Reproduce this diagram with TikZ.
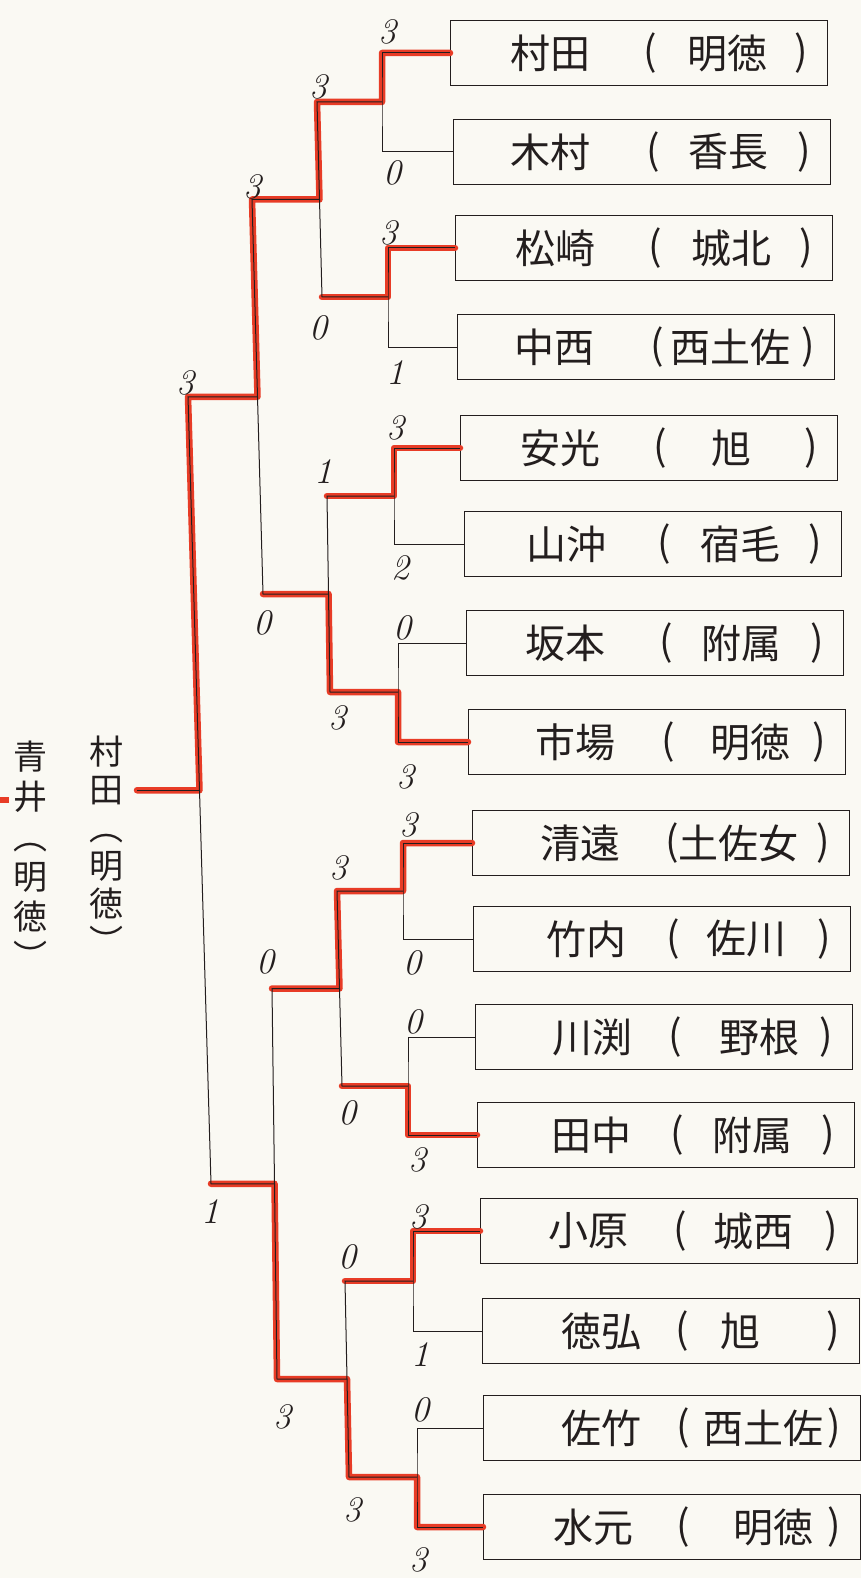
\documentclass[tikz,border=0pt]{standalone}
\usepackage{fontspec}
\newfontfamily\jp{Noto Sans CJK JP}
\definecolor{paper}{RGB}{250,249,243}
\definecolor{ink}{RGB}{35,30,30}
\definecolor{marker}{RGB}{232,60,38}
\tikzset{
 pbox/.style={draw=ink, line width=1.3pt, minimum width=377pt, minimum height=65pt, inner sep=0pt},
 nm/.style={font=\jp\fontsize{40}{42}\selectfont, text=ink, inner sep=0pt},
 sc/.style={font=\fontsize{36}{38}\selectfont\itshape, text=ink, inner sep=0pt},
 bk/.style={draw=ink, line width=1pt},
 win/.style={draw=marker, line width=6.5pt, line join=round, line cap=round},
 vt/.style={font=\jp\fontsize{34}{38}\selectfont, text=ink, align=center, inner sep=0pt}
}
\newcommand\plentry[7]{%
 \node[pbox, anchor=west] (#1) at (#2,#3) {};
 \node[nm] (#1n) at ([xshift=#5pt]#1.west) {#4};
 \node[nm] (#1l) at ([xshift=200pt]#1.west) {(};
 \node[nm] (#1s) at ([xshift=#7pt]#1.west) {#6};
 \node[nm] (#1r) at ([xshift=351pt]#1.west) {)};
}
\begin{document}
\begin{tikzpicture}[x=1pt,y=-1pt]
\useasboundingbox (0,0) rectangle (861,1578);
\fill[paper] (0,0) rectangle (861,1578);

% player boxes
\plentry{p1}{450}{53}{村田}{100}{明徳}{277}
\plentry{p2}{453}{152}{木村}{97}{香長}{275}
\plentry{p3}{455}{248}{松崎}{100}{城北}{276}
\plentry{p4}{457}{347}{中西}{97}{西土佐}{273}
\plentry{p5}{460}{448}{安光}{100}{旭}{271}
\plentry{p6}{464}{544}{山沖}{102}{宿毛}{276}
\plentry{p7}{466}{643}{坂本}{99}{附属}{275}
\plentry{p8}{468}{742}{市場}{107}{明徳}{282}
\plentry{p9}{472}{843}{清遠}{108}{土佐女}{266}
\plentry{p10}{473}{939}{竹内}{113}{佐川}{273}
\plentry{p11}{475}{1037}{川渕}{117}{野根}{284}
\plentry{p12}{477}{1135}{田中}{114}{附属}{275}
\plentry{p13}{480}{1231}{小原}{108}{城西}{273}
\plentry{p14}{482}{1331}{徳弘}{119}{旭}{258}
\plentry{p15}{483}{1428}{佐竹}{118}{西土佐}{280}
\plentry{p16}{483}{1527}{水元}{110}{明徳}{290}

% bracket joints
\coordinate (a1) at (382,102);
\coordinate (a2) at (388,297);
\coordinate (a3) at (394,496);
\coordinate (a4) at (398,692);
\coordinate (a5) at (403,891);
\coordinate (a6) at (408,1086);
\coordinate (a7) at (413,1281);
\coordinate (a8) at (417,1477);
\coordinate (b1t) at (317,102);
\coordinate (b1b) at (322,297);
\coordinate (b1m) at (319.5,199.5);
\coordinate (b2t) at (327,496);
\coordinate (b2b) at (330,692);
\coordinate (b2m) at (328.5,594);
\coordinate (b3t) at (337,891);
\coordinate (b3b) at (342,1086);
\coordinate (b3m) at (339.5,988.5);
\coordinate (b4t) at (345,1281);
\coordinate (b4b) at (349,1477);
\coordinate (b4m) at (347,1379);
\coordinate (c1t) at (252,199.5);
\coordinate (c1b) at (263,594);
\coordinate (c1m) at (257.5,396.75);
\coordinate (c2t) at (272,988.5);
\coordinate (c2b) at (277,1379);
\coordinate (c2m) at (274.5,1183.75);
\coordinate (dt) at (188,396.75);
\coordinate (db) at (211,1183.75);
\coordinate (dm) at (199.5,790.25);
\coordinate (champ) at (137,790.25);
\coordinate (lt1) at (0,800);
\coordinate (lt2) at (9,800);

% winners (red marker)
\draw[win] (p1.west) -| (a1) -- (b1t) -- (b1m) -- (c1t) -- (c1m) -- (dt) -- (dm) -- (champ);
\draw[win] (p3.west) -| (a2) -- (b1b);
\draw[win] (p5.west) -| (a3) -- (b2t);
\draw[win] (p8.west) -| (a4) -- (b2b) -- (b2m) -- (c1b);
\draw[win] (p9.west) -| (a5) -- (b3t) -- (b3m) -- (c2t);
\draw[win] (p12.west) -| (a6) -- (b3b);
\draw[win] (p13.west) -| (a7) -- (b4t);
\draw[win] (p16.west) -| (a8) -- (b4b) -- (b4m) -- (c2b) -- (c2m) -- (db);
\draw[win, line cap=butt] (lt1) -- (lt2);

% bracket lines
\draw[bk] (p1.west) -| (a1) |- (p2.west);
\draw[bk] (p3.west) -| (a2) |- (p4.west);
\draw[bk] (p5.west) -| (a3) |- (p6.west);
\draw[bk] (p7.west) -| (a4) |- (p8.west);
\draw[bk] (p9.west) -| (a5) |- (p10.west);
\draw[bk] (p11.west) -| (a6) |- (p12.west);
\draw[bk] (p13.west) -| (a7) |- (p14.west);
\draw[bk] (p15.west) -| (a8) |- (p16.west);
\draw[bk] (a1) -- (b1t) -- (b1b) -- (a2);
\draw[bk] (a3) -- (b2t) -- (b2b) -- (a4);
\draw[bk] (a5) -- (b3t) -- (b3b) -- (a6);
\draw[bk] (a7) -- (b4t) -- (b4b) -- (a8);
\draw[bk] (b1m) -- (c1t) -- (c1b) -- (b2m);
\draw[bk] (b3m) -- (c2t) -- (c2b) -- (b4m);
\draw[bk] (c1m) -- (dt) -- (db) -- (c2m);
\draw[bk] (dm) -- (champ);

% scores
\node[sc] (s01) at (387,32) {3};
\node[sc] (s02) at (392,173) {0};
\node[sc] (s03) at (318,87) {3};
\node[sc] (s04) at (252,187) {3};
\node[sc] (s05) at (388,233) {3};
\node[sc] (s06) at (318,328) {0};
\node[sc] (s07) at (395,373) {1};
\node[sc] (s08) at (185,383) {3};
\node[sc] (s09) at (395,428) {3};
\node[sc] (s10) at (323,472) {1};
\node[sc] (s11) at (400,568) {2};
\node[sc] (s12) at (262,623) {0};
\node[sc] (s13) at (402,628) {0};
\node[sc] (s14) at (337,718) {3};
\node[sc] (s15) at (405,777) {3};
\node[sc] (s16) at (408,825) {3};
\node[sc] (s17) at (338,868) {3};
\node[sc] (s18) at (265,962) {0};
\node[sc] (s19) at (412,963) {0};
\node[sc] (s20) at (413,1022) {0};
\node[sc] (s21) at (347,1113) {0};
\node[sc] (s22) at (417,1160) {3};
\node[sc] (s23) at (210,1212) {1};
\node[sc] (s24) at (418,1217) {3};
\node[sc] (s25) at (347,1257) {0};
\node[sc] (s26) at (420,1355) {1};
\node[sc] (s27) at (420,1410) {0};
\node[sc] (s28) at (282,1417) {3};
\node[sc] (s29) at (352,1510) {3};
\node[sc] (s30) at (418,1560) {3};

% champion and runner-up (vertical writing)
\node[vt] (winner) at (106,845) {村\\田\\︵\\明\\徳\\︶};
\node[vt, font=\jp\fontsize{34}{40}\selectfont] (second) at (30,855) {青\\井\\︵\\明\\徳\\︶};
\end{tikzpicture}
\end{document}
